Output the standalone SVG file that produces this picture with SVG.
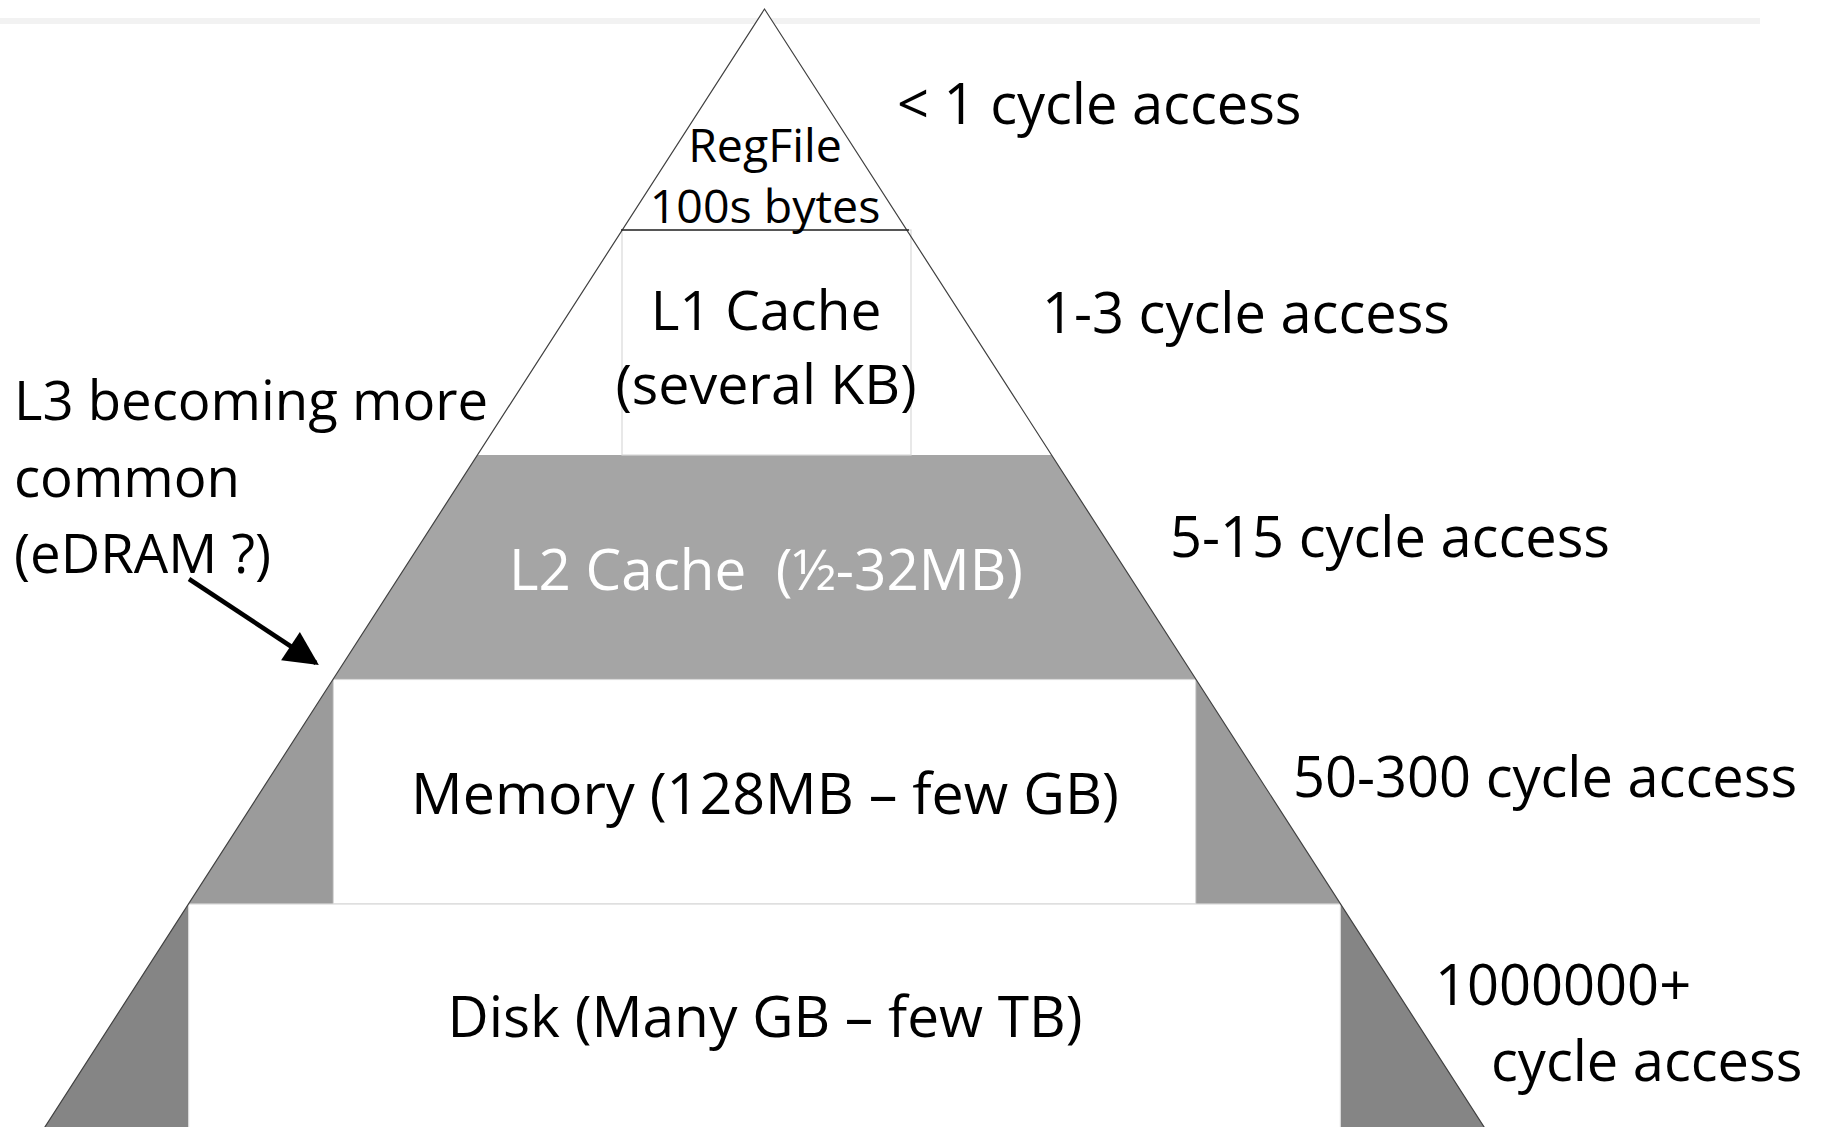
<svg xmlns="http://www.w3.org/2000/svg" width="1821" height="1127" viewBox="0 0 1821 1127">
  <style>
    text { font-family: "Open Sans", "Noto Sans", "Liberation Sans", sans-serif; fill: #000; }
    .big { font-size: 56px; }
    .small { font-size: 46.5px; }
    .mid { text-anchor: middle; }
    .white { fill: #ffffff; }
    .box { fill: #ffffff; stroke: #d9d9d9; stroke-width: 1.2; }
    .edge { fill: none; stroke: #404040; stroke-width: 1.2; }
  </style>
  <defs>
    <marker id="arrowhead" viewBox="0 0 10 10" refX="9" refY="5" markerWidth="44" markerHeight="34" markerUnits="userSpaceOnUse" orient="auto">
      <path d="M0,0 L10,5 L0,10 Z" fill="#000"/>
    </marker>
  </defs>
  <rect x="0" y="0" width="1821" height="1127" fill="#ffffff"/>
  <rect x="0" y="18" width="1760" height="6" fill="#f2f2f2"/>

  <!-- whole pyramid white base -->
  <polygon points="764.5,9 43,1130 1486,1130" fill="#ffffff"/>

  <g id="l2">
    <polygon points="477.5,455 1051.5,455 1195.6,679.5 333.4,679.5" fill="#a5a5a5"/>
    <text class="white" x="509" y="590" font-size="56.6" xml:space="preserve">L2 Cache  (½-32MB)</text>
  </g>

  <g id="memory">
    <polygon points="333.4,679.5 1195.6,679.5 1340.4,904 188.6,904" fill="#9b9b9b"/>
    <rect class="box" x="333.4" y="679.5" width="862.2" height="224.5"/>
    <text class="mid" x="765" y="814" font-size="57.4">Memory (128MB – few GB)</text>
  </g>

  <g id="disk">
    <polygon points="188.6,904 1340.4,904 1486,1130 43,1130" fill="#858585"/>
    <rect class="box" x="188.6" y="904" width="1151.8" height="240"/>
    <text class="mid" x="765" y="1037" font-size="56.8">Disk (Many GB – few TB)</text>
  </g>

  <g id="l1">
    <rect class="box" x="622" y="230" width="289" height="225"/>
    <text class="mid" x="766" y="330" font-size="55">L1 Cache</text>
    <text class="mid" x="766" y="404" font-size="55.5">(several KB)</text>
  </g>

  <g id="regfile">
    <polyline class="edge" points="43,1130 764.5,9 1486,1130"/>
    <line x1="621" y1="230" x2="909" y2="230" stroke="#262626" stroke-width="1.6"/>
    <text class="small mid" x="765" y="162">RegFile</text>
    <text class="small mid" x="765" y="223">100s bytes</text>
  </g>

  <g id="latencies">
    <text class="big" x="897" y="124">&lt; 1 cycle access</text>
    <text class="big" x="1042" y="333" font-size="56.3">1-3 cycle access</text>
    <text class="big" x="1170" y="557">5-15 cycle access</text>
    <text class="big" x="1293" y="797" font-size="56.3">50-300 cycle access</text>
    <text class="big" x="1435" y="1005" font-size="57">1000000+</text>
    <text class="big" x="1491" y="1081" font-size="55.7">cycle access</text>
  </g>

  <g id="l3-note">
    <text x="14" y="420" font-size="54.5">L3 becoming more</text>
    <text x="14" y="497" font-size="54.5">common</text>
    <text x="14" y="573" font-size="54.5">(eDRAM ?)</text>
  </g>

  <g id="connectors">
    <line x1="189" y1="579" x2="316" y2="663" stroke="#000" stroke-width="4.5" marker-end="url(#arrowhead)"/>
  </g>
</svg>
